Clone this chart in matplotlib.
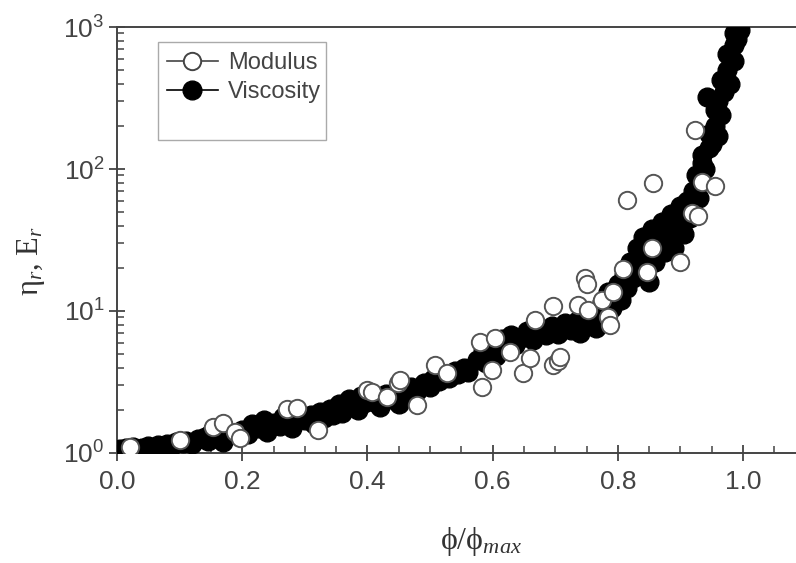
import matplotlib
matplotlib.use("Agg")
import matplotlib.pyplot as plt
from matplotlib.lines import Line2D
from matplotlib.patches import Rectangle
from matplotlib.ticker import FixedLocator, MultipleLocator, LogLocator, NullFormatter

plt.rcParams['font.family'] = ['Liberation Sans', 'DejaVu Sans']
plt.rcParams['mathtext.fontset'] = 'custom'
plt.rcParams['mathtext.rm'] = 'Liberation Serif'
plt.rcParams['mathtext.it'] = 'Liberation Serif:italic'

# Modulus (open circles)
mod_x = [0.021, 0.10, 0.153, 0.169, 0.188, 0.196, 0.272, 0.288, 0.321, 0.399, 0.407, 0.431,
         0.449, 0.452, 0.479, 0.508, 0.527, 0.580, 0.583, 0.599, 0.604, 0.628, 0.649, 0.660,
         0.668, 0.696, 0.696, 0.704, 0.708, 0.736, 0.748, 0.751, 0.752, 0.775, 0.784, 0.788,
         0.792, 0.808, 0.815, 0.847, 0.855, 0.856, 0.899, 0.919, 0.923, 0.928, 0.935, 0.955]
mod_y = [1.10, 1.23, 1.52, 1.63, 1.41, 1.28, 2.04, 2.07, 1.45, 2.78, 2.69, 2.48,
         3.11, 3.27, 2.18, 4.17, 3.66, 6.05, 2.92, 3.84, 6.45, 5.14, 3.66, 4.67,
         8.64, 10.8, 4.17, 4.44, 4.74, 11.0, 17.1, 15.5, 10.2, 11.9, 9.07, 7.97,
         13.6, 19.8, 60.5, 18.8, 27.8, 79.7, 22.1, 49.0, 188.0, 46.7, 81.0, 76.0]

# Viscosity (filled circles)
visc_x = [0.005, 0.015, 0.025, 0.03, 0.04, 0.05, 0.055, 0.065, 0.075, 0.08, 0.09, 0.095,
          0.105, 0.11, 0.12, 0.13, 0.14, 0.145, 0.15, 0.155, 0.16, 0.165, 0.17, 0.18,
          0.2, 0.21, 0.215, 0.225, 0.235, 0.24, 0.25, 0.26, 0.265, 0.275, 0.28, 0.29,
          0.30, 0.31, 0.315, 0.325, 0.33, 0.34, 0.345,
          0.355, 0.36, 0.37, 0.375, 0.385, 0.39, 0.395,
          0.41, 0.42, 0.43, 0.44, 0.45, 0.455, 0.465, 0.47, 0.48, 0.49, 0.50, 0.505,
          0.515, 0.52, 0.53, 0.54, 0.545, 0.555, 0.56,
          0.575, 0.585, 0.59, 0.60, 0.605, 0.615, 0.62, 0.63, 0.635, 0.645,
          0.655, 0.665, 0.675, 0.685, 0.695, 0.705, 0.715, 0.725, 0.735, 0.74,
          0.75, 0.755, 0.765, 0.77, 0.78,
          0.775, 0.785, 0.79, 0.80, 0.805, 0.81,
          0.815, 0.82, 0.825, 0.83, 0.835, 0.84, 0.845, 0.85, 0.855, 0.86, 0.865, 0.87, 0.875, 0.88,
          0.885, 0.89, 0.895, 0.90, 0.905, 0.91, 0.915,
          0.92, 0.925, 0.93, 0.935, 0.935, 0.94, 0.945,
          0.945, 0.95, 0.955, 0.96, 0.942, 0.955, 0.96, 0.965, 0.97,
          0.965, 0.975, 0.98, 0.985, 0.975, 0.985, 0.99, 0.985, 0.99, 0.995]
visc_y = [1.06, 1.08, 1.10, 1.05, 1.09, 1.12, 1.07, 1.13, 1.10, 1.16, 1.14, 1.20,
          1.17, 1.22, 1.15, 1.25, 1.30, 1.22, 1.38, 1.28, 1.45, 1.33, 1.20, 1.36,
          1.45, 1.35, 1.60, 1.50, 1.70, 1.40, 1.62, 1.55, 1.80, 1.65, 1.50, 1.78,
          1.70, 1.85, 1.60, 1.95, 1.75, 2.05, 1.85,
          2.2, 1.9, 2.4, 2.1, 2.0, 2.5, 2.25,
          2.3, 2.1, 2.6, 2.4, 2.2, 2.7, 2.5, 2.9, 2.75, 3.1, 2.9, 3.3,
          3.2, 3.5, 3.4, 3.8, 3.6, 4.0, 3.7,
          4.5, 5.2, 4.3, 5.8, 4.8, 6.3, 5.3, 6.8, 5.8, 6.5,
          7.2, 6.2, 7.6, 6.8, 7.8, 6.9, 8.2, 7.3, 8.5, 7.0,
          8.0, 9.0, 7.6, 8.8, 9.5,
          11.5, 13.5, 10.5, 15.5, 12.0, 18.0,
          14.5, 22, 17, 28, 20, 33, 25, 16, 38, 22, 30, 42, 26, 35,
          48, 28, 40, 55, 35, 60, 45,
          70, 90, 62, 110, 125, 100, 140,
          175, 150, 200, 170, 320, 260, 300, 240, 350,
          420, 500, 400, 580, 650, 750, 900, 900, 820, 950]

x_major = [0.0, 0.2, 0.4, 0.6, 0.8, 1.0]
x_labels = ["0.0", "0.2", "0.4", "0.6", "0.8", "1.0"]
y_major = [1, 10, 100, 1000]
y_labels = [r"$\mathdefault{10^{0}}$", r"$\mathdefault{10^{1}}$",
            r"$\mathdefault{10^{2}}$", r"$\mathdefault{10^{3}}$"]

W, H = 796, 563
fig = plt.figure(figsize=(W / 100, H / 100), dpi=100)
ax = fig.add_axes([117 / W, (H - 453) / H, (W - 117) / W, (453 - 27) / H])

ms = 13.5
ax.plot(visc_x, visc_y, linestyle='none', marker='o', markersize=ms,
        markerfacecolor='black', markeredgecolor='black', markeredgewidth=1.0, zorder=3)
ax.plot(mod_x, mod_y, linestyle='none', marker='o', markersize=ms - 1,
        markerfacecolor='white', markeredgecolor='#555555', markeredgewidth=1.4, zorder=4)

ax.set_yscale('log')
ax.set_xlim(0, (W - 117) / 626)
ax.set_ylim(1, 1000)

ax.xaxis.set_major_locator(FixedLocator(x_major))
ax.set_xticklabels(x_labels)
ax.xaxis.set_minor_locator(MultipleLocator(0.05))
ax.yaxis.set_major_locator(FixedLocator(y_major))
ax.set_yticklabels(y_labels)
ax.yaxis.set_minor_locator(LogLocator(base=10, subs=range(2, 10)))
ax.yaxis.set_minor_formatter(NullFormatter())

ax.tick_params(axis='both', which='major', direction='inout', length=12, width=1.3,
               color='#444444', labelsize=19, labelcolor='#444444')
ax.tick_params(axis='x', which='major', pad=6)
ax.tick_params(axis='y', which='major', pad=3)
ax.tick_params(axis='both', which='minor', direction='in', length=5, width=1.1, color='#444444')

for side in ['left', 'bottom', 'top']:
    ax.spines[side].set_color('#444444')
    ax.spines[side].set_linewidth(1.4)
ax.spines['right'].set_visible(False)

ax.set_ylabel(r"η$_r$, E$_r$", family='Liberation Serif', fontsize=22, color='#333333')
ax.yaxis.set_label_coords(-0.103, 0.45)
ax.set_xlabel(r"ϕ/ϕ$_{max}$", family=['Liberation Serif', 'DejaVu Serif'], fontsize=23,
              color='#333333')
ax.xaxis.set_label_coords(0.536, -0.17)

# legend box
fig.add_artist(Rectangle((158 / W, (H - 140) / H), 168 / W, 98 / H, transform=fig.transFigure,
                         facecolor='white', edgecolor='#aaaaaa', linewidth=1.0, zorder=5))
handles = [
    Line2D([], [], color='#444444', linewidth=1.2, marker='o', markersize=ms - 1,
           markerfacecolor='white', markeredgecolor='#444444', markeredgewidth=1.4),
    Line2D([], [], color='black', linewidth=1.2, marker='o', markersize=ms,
           markerfacecolor='black', markeredgecolor='black'),
]
leg = fig.legend(handles, ['Modulus', 'Viscosity'], loc='upper left',
                 bbox_to_anchor=(167 / W, (H - 52) / H), bbox_transform=fig.transFigure,
                 frameon=False, fontsize=17, handlelength=2.15, handletextpad=0.42,
                 labelspacing=0.3, borderpad=0.0, borderaxespad=0.0, labelcolor='#444444')
leg.set_zorder(6)

fig.savefig('out.png', dpi=100, facecolor='white')
